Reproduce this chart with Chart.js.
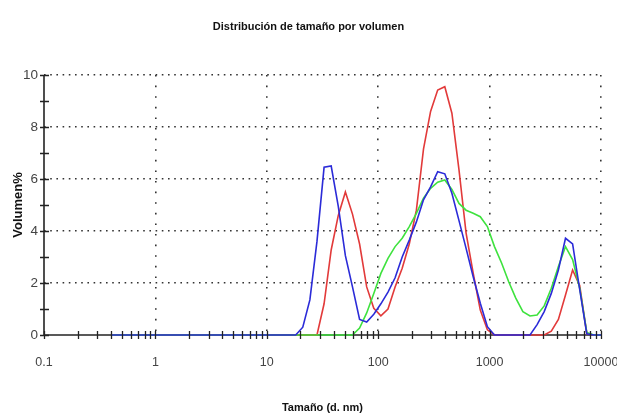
<!DOCTYPE html>
<html><head><meta charset="utf-8">
<script src="https://cdn.jsdelivr.net/npm/chart.js@4/dist/chart.umd.min.js"></script>
<style>html,body{margin:0;padding:0;background:#fff;}#wrap{width:617px;height:416px;}</style>
</head><body><div id="wrap"><canvas id="c" width="617" height="416"></canvas></div>
<script>
// Size classes (d. nm)
const sizes = [0.4,0.4632,0.5365,0.6213,0.7195,0.8332,0.9649,1.117,1.294,1.499,1.736,2.01,2.328,2.696,3.122,3.615,4.187,4.849,5.615,6.503,7.531,8.721,10.1,11.7,13.54,15.69,18.17,21.04,24.36,28.21,32.67,37.84,43.82,50.75,58.77,68.06,78.82,91.28,105.7,122.4,141.8,164.2,190.1,220.2,255,295.3,342,396.1,458.7,531.2,615.1,712.4,825,955.4,1106,1281,1484,1718,1990,2305,2669,3091,3580,4145,4801,5560,6439,7456,8635,10000];
const blueVol = [0,0,0,0,0,0,0,0,0,0,0,0,0,0,0,0,0,0,0,0,0,0,0,0,0,0,0,0.3,1.35,3.6,6.45,6.5,4.95,3.05,1.85,0.6,0.5,0.8,1.2,1.65,2.2,3.0,3.65,4.35,5.2,5.7,6.28,6.2,5.45,4.4,3.33,2.24,1.22,0.32,0,0,0,0,0,0,0.4,0.9,1.6,2.5,3.72,3.5,1.75,0.05,0,0];
const redVol = [0,0,0,0,0,0,0,0,0,0,0,0,0,0,0,0,0,0,0,0,0,0,0,0,0,0,0,0,0,0,1.2,3.27,4.6,5.5,4.65,3.5,1.85,1.03,0.74,1.0,1.85,2.57,3.5,4.8,7.15,8.6,9.42,9.55,8.53,6.35,3.92,2.38,0.96,0.2,0,0,0,0,0,0,0,0,0.15,0.6,1.54,2.5,1.9,0.05,0,0];
const greenVol = [0,0,0,0,0,0,0,0,0,0,0,0,0,0,0,0,0,0,0,0,0,0,0,0,0,0,0,0,0,0,0,0,0,0,0,0.27,0.85,1.6,2.37,2.95,3.4,3.72,4.17,4.68,5.26,5.64,5.88,5.96,5.6,5.06,4.8,4.68,4.55,4.17,3.4,2.77,2.05,1.42,0.9,0.73,0.77,1.12,1.8,2.63,3.4,2.9,1.8,0.1,0,0];
const xTickValues = [0.1,1,10,100,1000,10000];
const xTickLabels = ['0.1','1','10','100','1000','10000'];
const yTickValues = [0,2,4,6,8,10];
const yTickLabels = ['0','2','4','6','8','10'];
const titleText = 'Distribución de tamaño por volumen';
const xTitleText = 'Tamaño (d. nm)';
const yTitleText = 'Volumen%';

const SANS = '"Liberation Sans",Arial,sans-serif';

function pts(vals){ return sizes.map((s,i)=>({x:s,y:vals[i]})); }

const axesPlugin = {
  id:'axesPlugin',
  beforeDatasetsDraw(chart){
    const {ctx, chartArea:a, scales:{x,y}} = chart;
    const y0 = y.getPixelForValue(0);
    ctx.save();
    ctx.strokeStyle = '#222'; ctx.lineWidth = 1.6;
    ctx.beginPath(); ctx.moveTo(a.left, y0); ctx.lineTo(a.right, y0); ctx.stroke();
    ctx.restore();
  },
  afterDatasetsDraw(chart){
    const {ctx, chartArea:a, scales:{x,y}} = chart;
    const y0 = y.getPixelForValue(0);
    const x0 = x.getPixelForValue(0.1);
    ctx.save();
    ctx.strokeStyle = '#222'; ctx.lineWidth = 1.6;
    ctx.beginPath(); ctx.moveTo(x0, a.top); ctx.lineTo(x0, a.bottom); ctx.stroke();
    ctx.lineWidth = 1.3;
    ctx.beginPath();
    for (let e=-1; e<=3; e++){
      for (let m=1; m<=9; m++){
        const v = m*Math.pow(10,e);
        const px = Math.round(x.getPixelForValue(v))+0.5;
        ctx.moveTo(px, y0-4); ctx.lineTo(px, y0+4);
      }
    }
    const pe = Math.round(x.getPixelForValue(10000))+0.5;
    ctx.moveTo(pe, y0-4); ctx.lineTo(pe, y0+4);
    for (let v=0; v<=10; v++){
      const py = Math.round(y.getPixelForValue(v))+0.5;
      ctx.moveTo(x0-4, py); ctx.lineTo(x0+5, py);
    }
    ctx.stroke();
    ctx.restore();
  }
};

new Chart(document.getElementById('c'), {
  type:'line',
  data:{
    datasets:[
      {label:'A', data:pts(blueVol), borderColor:'#2b2bd8', borderWidth:1.6, pointRadius:0, tension:0, clip:false},
      {label:'B', data:pts(greenVol), borderColor:'#3ee23e', borderWidth:1.6, pointRadius:0, tension:0, clip:false},
      {label:'C', data:pts(redVol), borderColor:'#e23a3a', borderWidth:1.6, pointRadius:0, tension:0, clip:false}
    ]
  },
  options:{
    responsive:false, animation:false, devicePixelRatio:1,
    layout:{padding:0},
    plugins:{
      legend:{display:false}, tooltip:{enabled:false},
      title:{display:true, text:titleText, color:'#111', font:{family:SANS, size:11, weight:'bold'}, padding:{top:20,bottom:41.8}}
    },
    scales:{
      x:{
        type:'logarithmic', min:0.1, max:10000,
        afterBuildTicks(s){ s.ticks = xTickValues.map(v=>({value:v})); },
        afterFit(s){ s.height = 81; s.paddingRight = 16; s.paddingLeft = 0; },
        ticks:{autoSkip:false, maxRotation:0, padding:20, color:'#444', font:{family:SANS, size:12.5},
          callback:(v,i)=>xTickLabels[i]},
        grid:{drawTicks:false, lineWidth:1.6, color:(c)=> (c.tick && c.tick.value===0.1) ? 'rgba(0,0,0,0)' : '#333'},
        border:{display:false, dash:[1.6,9]},
        title:{display:true, text:xTitleText, color:'#111', font:{family:SANS, size:11, weight:'bold'}, padding:{top:0,bottom:1.5}}
      },
      y:{
        min:0, max:10,
        afterBuildTicks(s){ s.ticks = yTickValues.map(v=>({value:v})); },
        afterFit(s){ s.width = 44; },
        ticks:{padding:6, color:'#444', font:{family:SANS, size:13.5}, callback:(v,i)=>yTickLabels[i]},
        grid:{drawTicks:false, lineWidth:1.6, color:(c)=> (c.tick && c.tick.value===0) ? 'rgba(0,0,0,0)' : '#333'},
        border:{display:false, dash:[1.6,4.6]},
        title:{display:true, text:yTitleText, color:'#111', font:{family:SANS, size:13, weight:'bold'}, padding:{top:11,bottom:0}}
      }
    }
  },
  plugins:[axesPlugin]
});
</script>
</body></html>
